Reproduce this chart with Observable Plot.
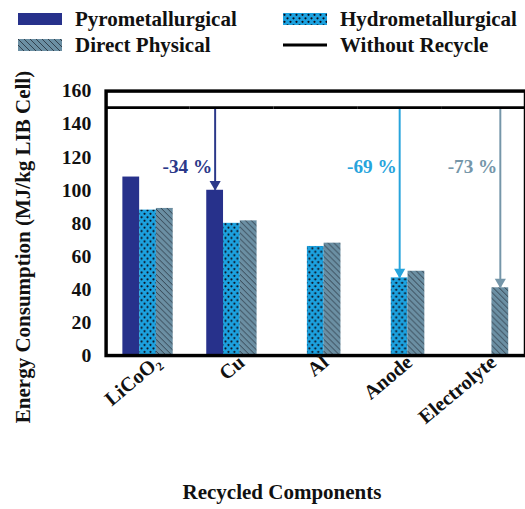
<!DOCTYPE html>
<html><head><meta charset="utf-8">
<script src="https://cdn.jsdelivr.net/npm/d3@7"></script>
<script src="https://cdn.jsdelivr.net/npm/@observablehq/plot@0.6"></script>
<style>
body{margin:0;width:525px;height:509px;overflow:hidden;background:#fff;font-family:"Liberation Serif","Tinos","Times New Roman","DejaVu Serif",serif;font-weight:bold;color:#111;position:relative;}
#legend{position:relative;height:60px;}
.item{position:absolute;display:flex;align-items:center;font-size:21px;white-space:nowrap;height:26px;}
.item svg{margin-right:13px;display:block}
#chart svg{overflow:visible}
.axlabel{position:absolute;white-space:nowrap;font-size:21px;line-height:1;transform:translate(-50%,-50%);}
#ylabel{transform:translate(-50%,-50%) rotate(-90deg);}
</style></head><body>
<svg width="0" height="0" style="position:absolute">
  <defs>
    <pattern id="dots" patternUnits="userSpaceOnUse" width="6" height="7">
      <rect width="6" height="7" fill="#1ca2e0"/>
      <circle cx="1.5" cy="1.8" r="1.1" fill="#0d0d1a"/>
      <circle cx="4.5" cy="5.3" r="1.1" fill="#0d0d1a"/>
    </pattern>
    <pattern id="hatch" patternUnits="userSpaceOnUse" width="6" height="6">
      <rect width="6" height="6" fill="#6b8fa3"/>
      <path d="M0,0L6,6M-1,5L1,7M5,-1L7,1" stroke="#1e2530" stroke-width="0.75"/>
    </pattern>
  </defs>
</svg>
<div id="legend"></div>
<div id="chart"></div>
<div class="axlabel" id="ylabel" style="left:23px;top:247px"></div>
<div class="axlabel" id="xlabel" style="left:282px;top:492px"></div>
<script>
// ---- data ----
const components = ["LiCoO₂", "Cu", "Al", "Anode", "Electrolyte"];
const series = ["Pyrometallurgical", "Hydrometallurgical", "Direct Physical"];
const pyrometallurgical = [108, 100, null, null, null];
const hydrometallurgical = [88, 80, 66, 47, null];
const directPhysical = [89, 81.5, 68, 51, 41];
const withoutRecycle = 150;
const yTicks = [0, 20, 40, 60, 80, 100, 120, 140, 160];
const yLabel = "Energy Consumption (MJ/kg LIB Cell)";
const xLabel = "Recycled Components";
const annComponents = ["Cu", "Anode", "Electrolyte"];
const annSeries = ["Pyrometallurgical", "Hydrometallurgical", "Direct Physical"];
const annValues = [100, 47, 41];
const annLabels = ["-34 %", "-69 %", "-73 %"];
const annLabelY = 114;

// ---- styles ----
const FONT = '"Liberation Serif","Tinos","Times New Roman","DejaVu Serif",serif';
const seriesFills = ["#27318b", "url(#dots)", "url(#hatch)"];
const annColors = ["#2b3889", "#27a4dc", "#7596a9"];

document.getElementById("ylabel").textContent = yLabel;
document.getElementById("xlabel").textContent = xLabel;

// ---- legend ----
const legend = document.getElementById("legend");
const legendItems = [
  {label: series[0], kind: "fill", fill: seriesFills[0], left: 18, top: 6},
  {label: series[1], kind: "fill", fill: seriesFills[1], left: 283, top: 6},
  {label: series[2], kind: "fill", fill: seriesFills[2], left: 18, top: 32},
  {label: "Without Recycle", kind: "line", fill: "#000", left: 283, top: 32}
];
for (const it of legendItems) {
  const div = document.createElement("div");
  div.className = "item";
  div.style.left = it.left + "px";
  div.style.top = it.top + "px";
  const sw = it.kind === "fill"
    ? `<svg width="44" height="12"><rect width="44" height="12" fill="${it.fill}"/></svg>`
    : `<svg width="44" height="12"><line x1="0" x2="44" y1="6" y2="6" stroke="#000" stroke-width="3"/></svg>`;
  div.innerHTML = sw + `<span>${it.label}</span>`;
  legend.appendChild(div);
}

// ---- table ----
const valuesBySeries = [pyrometallurgical, hydrometallurgical, directPhysical];
const rows = [];
series.forEach((s, si) => components.forEach((c, ci) => {
  const v = valuesBySeries[si][ci];
  if (v != null) rows.push({component: c, series: s, value: v});
}));
const ann = annComponents.map((c, i) => ({component: c, series: annSeries[i], value: annValues[i], label: annLabels[i], color: annColors[i]}));

const annMarks = ann.flatMap(a => [
  Plot.ruleX([a], {fx: "component", x: "series", y1: withoutRecycle, y2: "value", stroke: a.color, strokeWidth: 2}),
  Plot.dot([a], {fx: "component", x: "series", y: "value", symbol: "triangle", r: 4.2, rotate: 180, fill: a.color, stroke: "none", dy: -6}),
  Plot.text([a], {fx: "component", x: "series", y: annLabelY, text: "label", textAnchor: "end", dx: -3, fill: a.color, fontSize: 19.5})
]);

const chart = Plot.plot({
  width: 532, height: 449,
  marginTop: 31, marginBottom: 150, marginLeft: 106, marginRight: 0,
  style: {fontFamily: FONT, fontWeight: "bold", fontSize: "20px", color: "#111", background: "transparent"},
  fx: {domain: components, paddingInner: 0, paddingOuter: 0},
  x: {domain: series, paddingInner: 0, paddingOuter: 0.93, axis: null},
  y: {domain: [0, 160]},
  color: {domain: series, range: seriesFills},
  marks: [
    Plot.barY(rows, {fx: "component", x: "series", y: "value", fill: "series"}),
    ...annMarks,
    Plot.ruleY([withoutRecycle], {stroke: "#000", strokeWidth: 3}),
    Plot.frame({facet: "super", stroke: "#000", strokeWidth: 3.5}),
    Plot.axisY({ticks: yTicks, tickSize: 0, tickPadding: 15, fontSize: 20, label: null}),
    Plot.axisFx({anchor: "bottom", tickSize: 0, tickRotate: -40, tickPadding: 4, dx: 10, fontSize: 20.5, label: null})
  ]
});
document.getElementById("chart").appendChild(chart);
</script>
</body></html>
